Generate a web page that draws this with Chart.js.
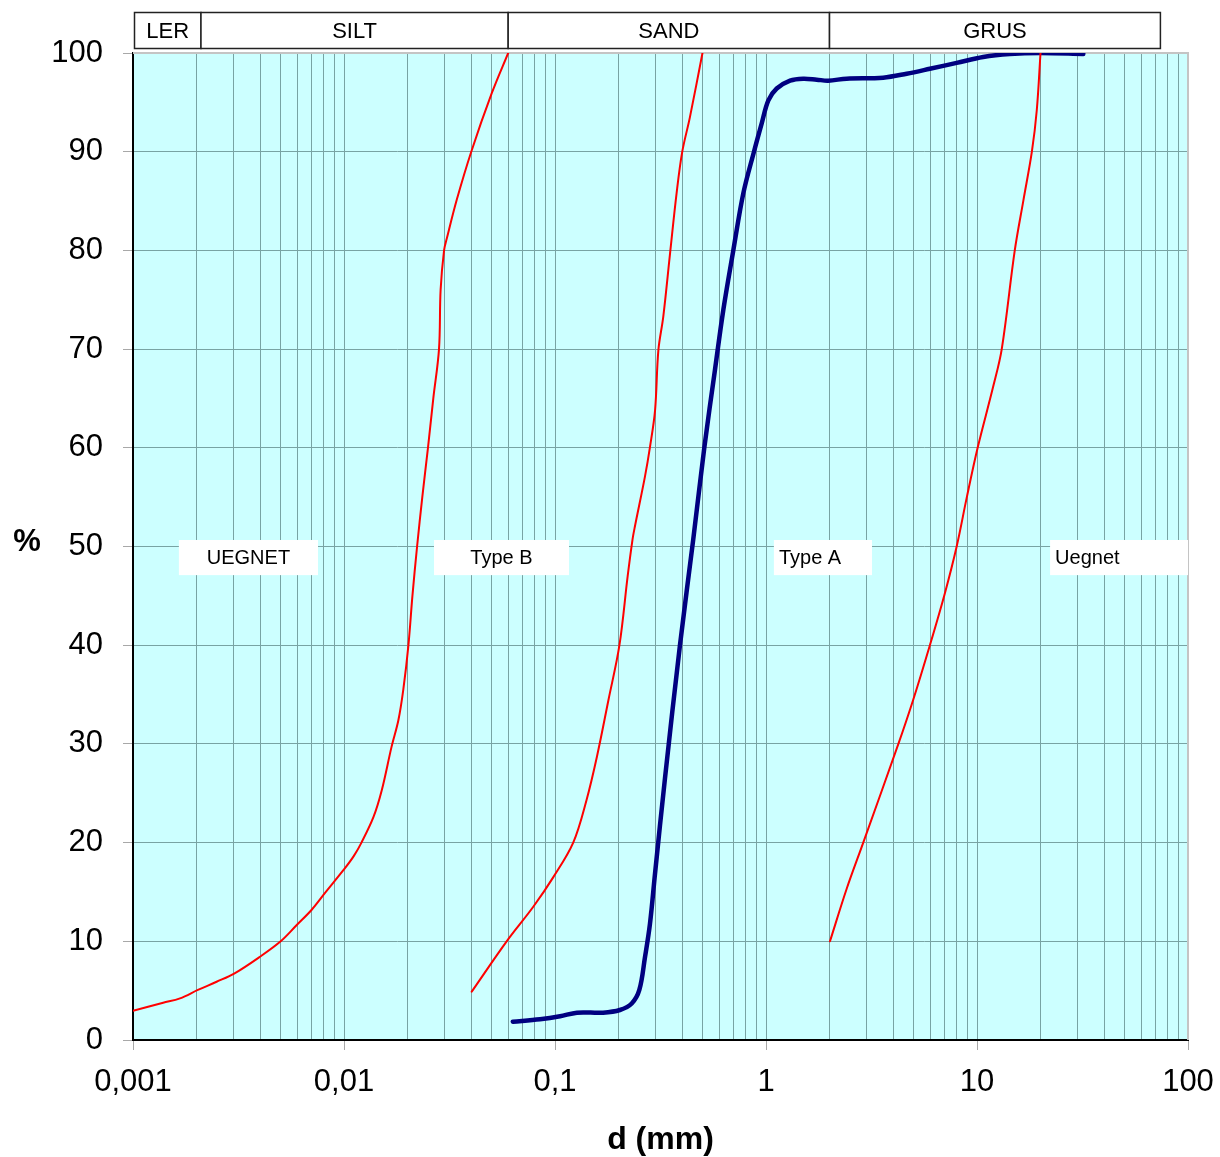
<!DOCTYPE html>
<html><head><meta charset="utf-8">
<script src="https://cdn.jsdelivr.net/npm/chart.js@4.4.1/dist/chart.umd.min.js"></script>
<style>html,body{margin:0;padding:0;background:#fff}#wrap{width:1220px;height:1157px;position:relative}</style>
</head><body><div id="wrap"><canvas id="c" width="1220" height="1157"></canvas></div>
<script>
// ---- data ----
const decades = [0.001, 0.01, 0.1, 1, 10, 100];
const decadeLabels = ['0,001', '0,01', '0,1', '1', '10', '100'];
const minorSteps = [2, 3, 4, 5, 6, 7, 8, 9];

const leftRedX = [0.001,0.00139,0.00167,0.00203,0.00249,0.00303,0.0040,0.00501,0.00597,0.00703,0.00813,0.00993,0.0111,0.0121,0.0138,0.0151,0.0168,0.0181,0.0191,0.0202,0.0211,0.0222,0.0235,0.0250,0.0265,0.0282,0.0287,0.0298,0.0307,0.0342,0.0401,0.0501,0.06];
const leftRedY = [2.97,3.78,4.22,5.07,5.9,6.75,8.44,10.0,11.65,13.2,14.9,17.2,18.6,20.0,22.6,25.3,29.7,32.4,35.5,40.0,45.0,50.0,55.0,60.0,65.0,70.0,76.0,80.0,81.2,85.1,90.0,95.9,100];

const midRedX = [0.0403,0.059,0.0789,0.0982,0.122,0.141,0.158,0.179,0.202,0.221,0.233,0.239,0.267,0.282,0.298,0.309,0.326,0.351,0.377,0.401,0.436,0.5];
const midRedY = [4.9,10.0,13.5,16.5,20.0,24.3,28.7,34.4,40.0,47.0,50.7,52.0,57.1,60.1,63.8,69.9,73.3,79.7,85.8,90.0,93.5,100];

const rightRedX = [2.01,2.41,2.89,4.24,4.99,5.98,7.05,8.01,8.93,10.07,11.9,13.1,15.1,16.6,18.2,19.2,20];
const rightRedY = [10.0,15.3,20.0,30.0,34.5,40.0,45.3,50.0,54.9,60.0,66.1,70.0,80.0,85.1,90.0,94.2,100];

const blueX = [0.0631,0.0849,0.1057,0.127,0.169,0.203,0.231,0.251,0.267,0.282,0.298,0.332,0.391,0.452,0.51,0.573,0.628,0.700,0.781,0.877,0.955,1.026,1.124,1.30,1.50,1.74,1.97,2.41,3.59,4.64,5.98,8.01,10.7,14.3,20,31.9];
const blueY = [1.86,2.1,2.4,2.77,2.77,3.04,3.7,5.07,8.4,11.8,16.9,26.5,40.0,50.7,60.0,67.9,74.0,80.0,85.8,90.0,92.9,95.2,96.4,97.2,97.4,97.3,97.2,97.4,97.5,97.9,98.4,99.0,99.6,99.9,100,99.9];

// grain size classes (top band)
const zoneNames = ['LER', 'SILT', 'SAND', 'GRUS'];
const zoneBounds = [0.001, 0.0021, 0.06, 2, 74];

// region labels inside the plot
const regionTexts = ['UEGNET', 'Type B', 'Type A', 'Uegnet'];
const regionXFrom = [0.00165, 0.0267, 1.09, 22.2];
const regionXTo   = [0.00753, 0.1165, 3.18, 100];
const regionYLow  = [47.1, 47.1, 47.1, 47.1];
const regionYHigh = [50.66, 50.66, 50.66, 50.66];
const regionAlign = ['center', 'center', 'left', 'left'];

const yTitle = '%';
const xTitle = 'd (mm)';

// ---- build ----
const pts = (xs, ys) => xs.map((x, i) => ({x, y: ys[i]}));
const xTicks = [];
decades.forEach((d, i) => {
  xTicks.push({value: d, major: true});
  if (i < decades.length - 1) minorSteps.forEach(m => xTicks.push({value: +(d * m).toPrecision(6), major: false}));
});

const FONT = '"Liberation Sans", Arial, sans-serif';
const GRID = '#78a3a3';

const decorPlugin = {
  id: 'decor',
  beforeDraw(chart) {
    const {ctx, chartArea: a} = chart;
    ctx.save();
    ctx.fillStyle = '#ccffff';
    ctx.fillRect(a.left, a.top, a.right - a.left, a.bottom - a.top);
    ctx.restore();
  },
  beforeDatasetsDraw(chart) {
    const {ctx, chartArea: a, scales: {x, y}} = chart;
    ctx.save();
    ctx.strokeStyle = '#c4c4c4';
    ctx.lineWidth = 2;
    ctx.beginPath();
    ctx.moveTo(a.left, a.top); ctx.lineTo(a.right, a.top); ctx.lineTo(a.right, a.bottom);
    ctx.stroke();
    ctx.font = '20px ' + FONT;
    ctx.textBaseline = 'middle';
    regionTexts.forEach((t, i) => {
      const x0 = x.getPixelForValue(regionXFrom[i]);
      const x1 = Math.min(x.getPixelForValue(regionXTo[i]), a.right);
      const y0 = y.getPixelForValue(regionYHigh[i]);
      const y1 = y.getPixelForValue(regionYLow[i]);
      ctx.fillStyle = '#ffffff';
      ctx.fillRect(x0, y0, x1 - x0, y1 - y0);
      ctx.fillStyle = '#000';
      if (regionAlign[i] === 'center') {
        ctx.textAlign = 'center';
        ctx.fillText(t, (x0 + x1) / 2, (y0 + y1) / 2 + 1);
      } else {
        ctx.textAlign = 'left';
        ctx.fillText(t, x0 + 5, (y0 + y1) / 2 + 1);
      }
    });
    ctx.restore();
  },
  afterDraw(chart) {
    const {ctx, chartArea: a, scales: {x}} = chart;
    ctx.save();
    const bTop = a.top - 40.5, bBot = a.top - 4.5;
    ctx.strokeStyle = '#222';
    ctx.lineWidth = 1.5;
    ctx.font = '22px ' + FONT;
    ctx.textAlign = 'center';
    ctx.textBaseline = 'middle';
    zoneNames.forEach((n, i) => {
      const x0 = x.getPixelForValue(zoneBounds[i]) + (i === 0 ? 1.5 : 0);
      const x1 = x.getPixelForValue(zoneBounds[i + 1]);
      ctx.fillStyle = '#fff';
      ctx.fillRect(x0, bTop, x1 - x0, bBot - bTop);
      ctx.strokeRect(x0, bTop, x1 - x0, bBot - bTop);
      ctx.fillStyle = '#000';
      ctx.fillText(n, (x0 + x1) / 2, (bTop + bBot) / 2 + 1);
    });
    ctx.fillStyle = '#000';
    ctx.font = 'bold 31px ' + FONT;
    ctx.fillText(yTitle, 27, (a.top + a.bottom) / 2 - 4);
    ctx.font = 'bold 32px ' + FONT;
    ctx.fillText(xTitle, (a.left + a.right) / 2, 1140);
    ctx.restore();
  }
};

new Chart(document.getElementById('c'), {
  type: 'line',
  data: {
    datasets: [
      {data: pts(leftRedX, leftRedY), borderColor: '#ff0000', borderWidth: 2},
      {data: pts(midRedX, midRedY), borderColor: '#ff0000', borderWidth: 2},
      {data: pts(rightRedX, rightRedY), borderColor: '#ff0000', borderWidth: 2},
      {data: pts(blueX, blueY), borderColor: '#000080', borderWidth: 4.5}
    ]
  },
  options: {
    responsive: false,
    animation: false,
    devicePixelRatio: 1,
    layout: {padding: {left: 0, right: 32, top: 53, bottom: 0}},
    elements: {
      point: {radius: 0},
      line: {tension: 0.35, fill: false, borderCapStyle: 'round', borderJoinStyle: 'round'}
    },
    plugins: {legend: {display: false}, tooltip: {enabled: false}},
    scales: {
      x: {
        type: 'logarithmic',
        min: 0.001, max: 100,
        afterBuildTicks(scale) { scale.ticks = xTicks.map(t => ({value: t.value, major: t.major})); },
        afterFit(scale) { scale.height = 117; scale.paddingLeft = 0; scale.paddingRight = 0; },
        ticks: {
          autoSkip: false, maxRotation: 0, minRotation: 0,
          padding: 14,
          color: '#000',
          font: {family: FONT, size: 31},
          callback(value) {
            const i = decades.findIndex(d => Math.abs(d - value) / d < 1e-6);
            return i >= 0 ? decadeLabels[i] : '';
          }
        },
        grid: {
          color: GRID, lineWidth: 1, tickLength: 10,
          tickColor: (c) => (c.tick && c.tick.major) ? '#a8a8a8' : 'rgba(0,0,0,0)'
        },
        border: {color: '#000', width: 2}
      },
      y: {
        min: 0, max: 100,
        afterFit(scale) { scale.width = 133; scale.paddingTop = 0; scale.paddingBottom = 0; },
        ticks: {stepSize: 10, padding: 20, color: '#000', font: {family: FONT, size: 31}},
        grid: {color: GRID, lineWidth: 1, tickLength: 10, tickColor: '#a8a8a8'},
        border: {color: '#000', width: 2}
      }
    }
  },
  plugins: [decorPlugin]
});
</script>
</body></html>
